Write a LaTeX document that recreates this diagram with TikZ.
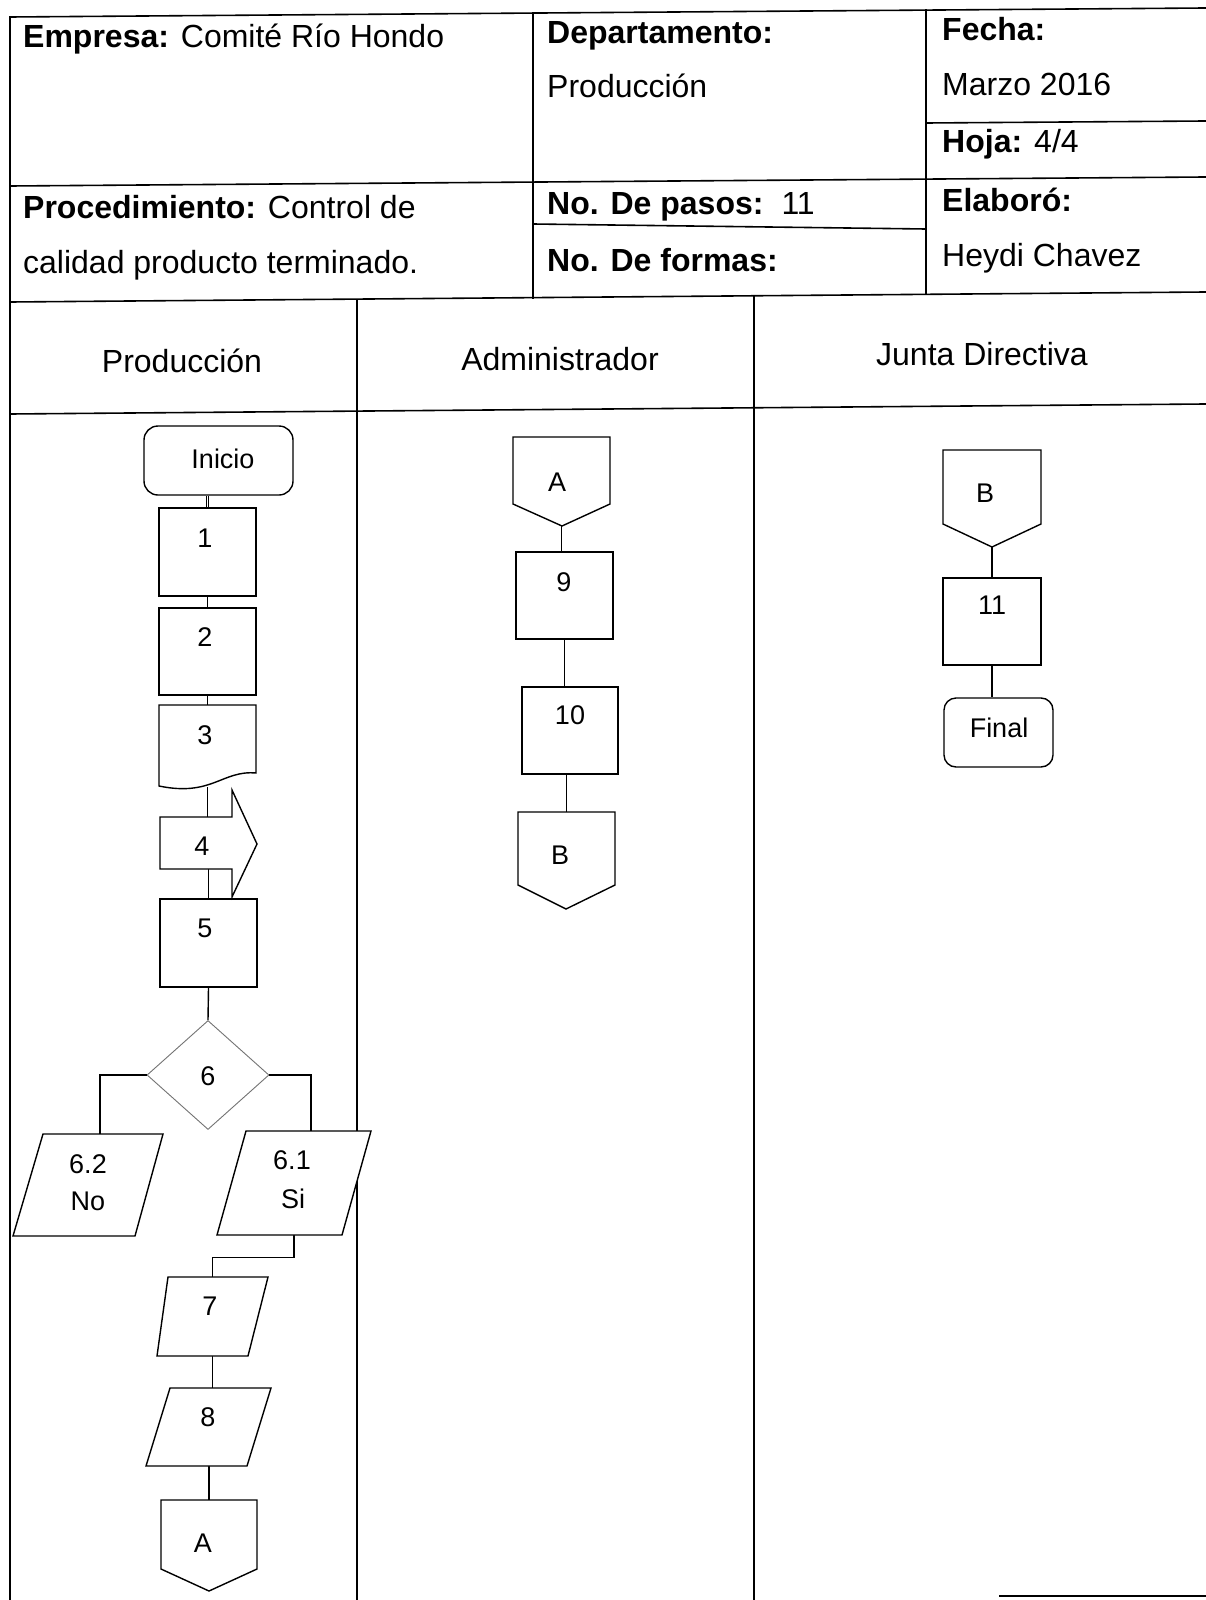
\documentclass[tikz,border=0pt]{standalone}
\usepackage{fontspec}
\setmainfont{Liberation Sans}
\usetikzlibrary{shapes.geometric}
\begin{document}
\begin{tikzpicture}[x=1pt,y=-1pt,
  tbl/.style={line width=1.6pt, line cap=rect},
  shp/.style={draw, line width=1.4pt, fill=white, line join=miter},
  hdr/.style={anchor=base west, inner sep=0pt, font=\fontsize{32}{38}\selectfont},
  lane/.style={anchor=base, inner sep=0pt, font=\fontsize{32}{38}\selectfont},
  lbl/.style={inner sep=0pt, font=\fontsize{27}{32}\selectfont},
  box/.style={draw, line width=1.4pt, rectangle, inner sep=0pt, fill=white},
  ghost/.style={rectangle, inner sep=0pt, draw=none},
  conn/.style={line width=1.4pt}
]
\useasboundingbox[fill=white] (0,0) rectangle (1205,1600);

% ---------- table ----------
\draw[tbl] (10,17) -- (1205,8);
\draw[tbl] (10,17) -- (10,1600);
\draw[tbl] (10,186) -- (1205,177);
\draw[tbl] (10,302) -- (1205,292);
\draw[tbl] (533,13) -- (533,298);
\draw[tbl] (926,10) -- (926,294);
\draw[tbl] (926,123) -- (1205,121);
\draw[tbl] (533,224) -- (926,229);
\draw[tbl] (357,301) -- (357,1600);
\draw[tbl] (754,297) -- (754,1600);
\draw[tbl] (10,414) -- (1205,404);
\draw[tbl] (1000,1596) -- (1205,1596);

% ---------- header texts ----------
\node[hdr] (emp) at (23,48) {\textbf{Empresa:} Comité Río Hondo};
\node[hdr] (dep) at (547,44) {\textbf{Departamento:}};
\node[hdr] (depv) at (547,98) {Producción};
\node[hdr] (fec) at (942,41) {\textbf{Fecha:}};
\node[hdr] (fecv) at (942,96) {Marzo 2016};
\node[hdr] (hoja) at (942,153) {\textbf{Hoja:}\hspace{12pt}4/4};
\node[hdr] (proc) at (23,218) {\textbf{Procedimiento:} Control de};
\node[hdr] (proc2) at (23,273) {calidad producto terminado.};
\node[hdr] (pasos) at (547,214) {\textbf{No. De pasos:}\hspace{18pt}11};
\node[hdr] (formas) at (547,271) {\textbf{No. De formas:}};
\node[hdr] (elab) at (942,211) {\textbf{Elaboró:}};
\node[hdr] (elabv) at (942,266) {Heydi Chavez};

\node[lane] (l1) at (182,372) {Producción};
\node[lane] (l2) at (560,370) {Administrador};
\node[lane] (l3) at (982,365) {Junta Directiva};

% ---------- nodes ----------
\node[box, rounded corners=14pt, minimum width=149, minimum height=69] (ini) at (218.5,460.5) {};
\node[box, minimum width=97, minimum height=88] (b1) at (207.5,552) {};
\node[box, minimum width=97, minimum height=87] (b2) at (207.5,651.5) {};
\node[ghost, minimum width=97, minimum height=82] (d3) at (207.5,746) {};
\node[ghost, minimum width=72, minimum height=52] (a4) at (196,843) {};
\node[box, minimum width=97, minimum height=88] (b5) at (208.5,943) {};
\node[draw=black!55, line width=0.9pt, diamond, minimum width=122, minimum height=109, inner sep=0pt, fill=white] (dia) at (208,1075) {};
\node[ghost, minimum width=150, minimum height=102] (p62) at (88,1185) {};
\node[ghost, minimum width=154, minimum height=104] (p61) at (294,1183) {};
\node[ghost, minimum width=111, minimum height=79] (p7) at (212.5,1316.5) {};
\node[ghost, minimum width=125, minimum height=78] (p8) at (208.5,1427) {};
\node[ghost, minimum width=96, minimum height=91] (offA) at (209,1545.5) {};

\node[ghost, minimum width=97, minimum height=89] (offA2) at (561.5,481.5) {};
\node[box, minimum width=97, minimum height=87] (b9) at (564.5,595.5) {};
\node[box, minimum width=96, minimum height=87] (b10) at (570,730.5) {};
\node[ghost, minimum width=97, minimum height=97] (offB) at (566.5,860.5) {};

\node[ghost, minimum width=98, minimum height=97] (offB2) at (992,498.5) {};
\node[box, minimum width=98, minimum height=87] (b11) at (992,621.5) {};
\node[box, rounded corners=12pt, minimum width=109, minimum height=69] (fin) at (998.5,732.5) {};

% ---------- connectors ----------
\draw[line width=0.9pt, double distance=1.6pt] (b1.north |- ini.south) -- (b1.north);
\draw[conn] (b1.south) -- (b2.north);
\draw[conn] (b2.south) -- (b2.south |- d3.center);
\draw[conn] (d3.south) -- (d3.south |- a4.north);
\draw[conn] (a4.south -| b5.north) -- (b5.north);
\draw[conn] (b5.south) -- (dia.north);
\draw[conn] (dia.west) -| ([xshift=12pt]p62.north);
\draw[conn] (dia.east) -| ([xshift=17pt]p61.north);
\draw[conn] (p61.south) -- ++(0,22) -| (p7.north);
\draw[conn] (p7.south) -- (p7.south |- p8.north);
\draw[conn] (offA.north |- p8.south) -- (offA.north);

\draw[conn] (offA2.south) -- (offA2.south |- b9.north);
\draw[conn] (b9.south) -- (b9.south |- b10.north);
\draw[conn] (offB.north |- b10.south) -- (offB.north);

\draw[conn] (offB2.south) -- (b11.north);
\draw[conn] (b11.south) -- (b11.south |- fin.north);

% ---------- drawn shapes ----------
\draw[shp] (159,705) -- (256,705) -- (256,773) .. controls (222,770) and (212,797) .. (159,786) -- cycle;
\draw[shp] (160,817) -- (232,817) -- (232,790) -- (257,844) -- (232,897) -- (232,869) -- (160,869) -- cycle;
\draw[shp] (43,1134) -- (163,1134) -- (135,1236) -- (13,1236) -- cycle;
\draw[shp] (246,1131) -- (371,1131) -- (342,1235) -- (217,1235) -- cycle;
\draw[shp] (168,1277) -- (268,1277) -- (248,1356) -- (157,1356) -- cycle;
\draw[shp] (170,1388) -- (271,1388) -- (247,1466) -- (146,1466) -- cycle;
\draw[shp] (161,1500) -- (257,1500) -- (257,1569) -- (209,1591) -- (161,1569) -- cycle;
\draw[shp] (513,437) -- (610,437) -- (610,504) -- (562,526) -- (513,504) -- cycle;
\draw[shp] (518,812) -- (615,812) -- (615,885) -- (566,909) -- (518,885) -- cycle;
\draw[shp] (943,450) -- (1041,450) -- (1041,524) -- (992,547) -- (943,524) -- cycle;

% ---------- labels ----------
\node[lbl] (tini) at (223,459) {Inicio};
\node[lbl] (t1) at (205,538) {1};
\node[lbl] (t2) at (205,637) {2};
\node[lbl] (t3) at (205,735) {3};
\node[lbl] (t4) at (202,846) {4};
\node[lbl] (t5) at (205,928) {5};
\node[lbl] (t6) at (208,1076) {6};
\node[lbl] (t62a) at (88,1164) {6.2};
\node[lbl] (t62b) at (88,1201) {No};
\node[lbl] (t61a) at (292,1160) {6.1};
\node[lbl] (t61b) at (293,1199) {Si};
\node[lbl] (t7) at (210,1306) {7};
\node[lbl] (t8) at (208,1417) {8};
\node[lbl] (tA) at (203,1543) {A};
\node[lbl] (tA2) at (557,482) {A};
\node[lbl] (t9) at (564,582) {9};
\node[lbl] (t10) at (570,715) {10};
\node[lbl] (tB) at (560,855) {B};
\node[lbl] (tB2) at (985,493) {B};
\node[lbl] (t11) at (992,605) {11};
\node[lbl] (tfin) at (999,728) {Final};
\end{tikzpicture}
\end{document}
